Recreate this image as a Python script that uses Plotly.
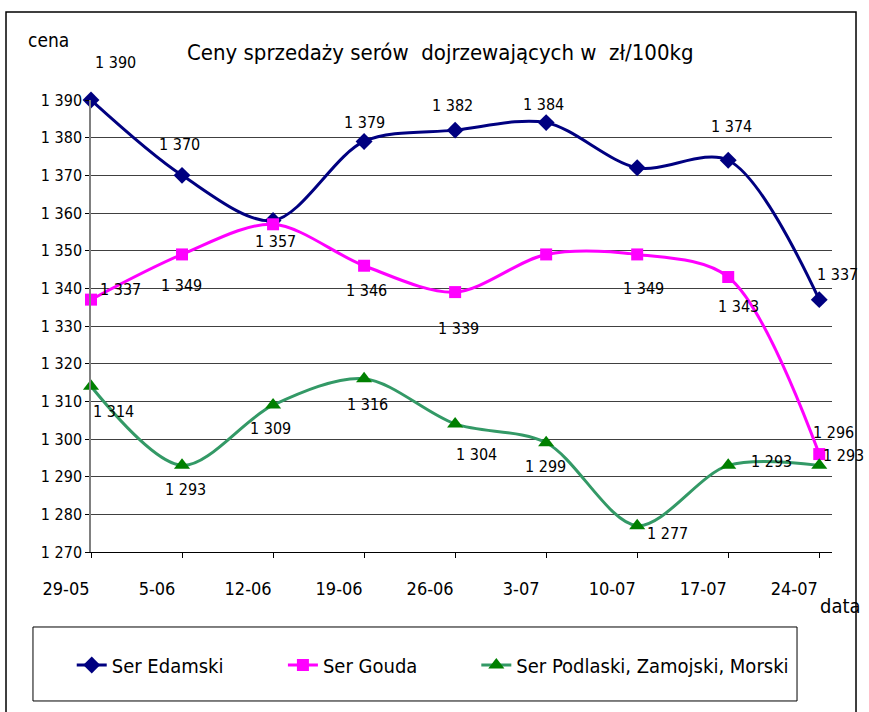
import plotly.graph_objects as go

dates = ["29-05", "5-06", "12-06", "19-06", "26-06", "3-07", "10-07", "17-07", "24-07"]
edamski = [1390, 1370, 1358, 1379, 1382, 1384, 1372, 1374, 1337]
gouda = [1337, 1349, 1357, 1346, 1339, 1349, 1349, 1343, 1296]
podlaski = [1314, 1293, 1309, 1316, 1304, 1299, 1277, 1293, 1293]
names = ["Ser Edamski", "Ser Gouda", "Ser Podlaski, Zamojski, Morski"]
yticks = list(range(1270, 1391, 10))

# which points show a label and the label offsets (px) - styling only
show_ed = [1, 1, 0, 1, 1, 1, 0, 1, 1]
off_ed = [(24, -38), (-3, -31), (0, 0), (0, -19), (-3, -25), (-3, -18), (0, 0), (3, -34), (18, -25)]
show_go = [1, 1, 1, 1, 1, 0, 1, 1, 1]
off_go = [(29, -10), (-1, 31), (2, 17), (2, 25), (3, 36), (0, 0), (6, 34), (10, 29), (14, -22)]
show_po = [1, 1, 1, 1, 1, 1, 1, 1, 1]
off_po = [(22, 25), (3, 24), (-3, 23), (3, 26), (21, 31), (-1, 24), (30, 8), (43, -4), (24, -10)]

FONT = "Liberation Sans Narrow, Arial Narrow, DejaVu Sans Condensed, Liberation Sans, sans-serif"

fig = go.Figure()
series = [
    (edamski, names[0], "#000080", "#000080", "diamond", 13, "legend"),
    (gouda, names[1], "#FF00FF", "#FF00FF", "square", 12, "legend2"),
    (podlaski, names[2], "#339966", "#008000", "triangle-up", 14, "legend3"),
]
for vals, name, lc, mc, sym, ms, lg in series:
    fig.add_trace(go.Scatter(
        x=dates, y=vals, name=name, mode="lines+markers",
        line=dict(color=lc, width=3, shape="spline", smoothing=0.9),
        marker=dict(color=mc, symbol=sym, size=ms, line=dict(width=0)),
        legend=lg, cliponaxis=False,
    ))

def fmt(v):
    return f"{v:,}".replace(",", " ")

ann = []
for vals, shows, offs in [(edamski, show_ed, off_ed), (gouda, show_go, off_go), (podlaski, show_po, off_po)]:
    for d, v, s, (dx, dy) in zip(dates, vals, shows, offs):
        if s:
            ann.append(dict(x=d, y=v, xref="x", yref="y", text=fmt(v), showarrow=False,
                            xanchor="center", yanchor="middle",
                            xshift=dx, yshift=-dy, font=dict(family=FONT, size=16, color="#000000")))

ann.append(dict(x=-0.058, y=1.1327, xref="paper", yref="paper", text="cena", showarrow=False,
                xanchor="center", yanchor="middle",
                font=dict(family=FONT, size=19, color="#000")))
ann.append(dict(x=1.0108, y=-0.12, xref="paper", yref="paper", text="data", showarrow=False,
                xanchor="center", yanchor="middle",
                font=dict(family=FONT, size=20, color="#000")))
ann.append(dict(x=0.471, y=1.104, xref="paper", yref="paper",
                text="Ceny sprzedaży serów  dojrzewających w  zł/100kg", showarrow=False,
                xanchor="center", yanchor="middle",
                font=dict(family=FONT, size=22, color="#000")))

shapes = [
    dict(type="rect", xref="paper", yref="paper", x0=-0.1147, x1=1.0324, y0=-0.40, y1=1.1947,
         line=dict(color="#000", width=1.5), fillcolor="rgba(0,0,0,0)", layer="below"),
    dict(type="rect", xref="paper", yref="paper", x0=-0.0783, x1=0.9528, y0=-0.3296, y1=-0.1659,
         line=dict(color="#000", width=1), fillcolor="white", layer="below"),
]

leg = dict(y=-0.25, xanchor="left", yanchor="middle", orientation="h",
           font=dict(family=FONT, size=20), bgcolor="rgba(0,0,0,0)")
fig.update_layout(
    width=869, height=712,
    margin=dict(l=91, r=37, t=100, b=160),
    paper_bgcolor="white", plot_bgcolor="white",
    font=dict(family=FONT, size=17, color="#000"),
    showlegend=True,
    annotations=ann, shapes=shapes,
    legend=dict(x=-0.026, **leg),
    legend2=dict(x=0.259, **leg),
    legend3=dict(x=0.52, **leg),
)
fig.update_xaxes(type="category", range=[0, 8.14], showline=True, linecolor="#000", linewidth=1,
                 ticks="outside", ticklen=5, tickcolor="#000", showgrid=False,
                 ticklabelstandoff=15, ticklabelshift=-25,
                 tickfont=dict(family=FONT, size=18), zeroline=False)
fig.update_yaxes(range=[1270, 1390], tickvals=yticks, ticktext=[fmt(v) for v in yticks],
                 showline=True, linecolor="#808080", linewidth=1.5, ticks="outside", ticklen=4,
                 tickcolor="#000", showgrid=True, gridcolor="#404040", gridwidth=1,
                 tickfont=dict(family=FONT, size=16), zeroline=False)

fig.write_html("out.html", config={"displayModeBar": False},
               post_script="document.body.style.margin='0';")
